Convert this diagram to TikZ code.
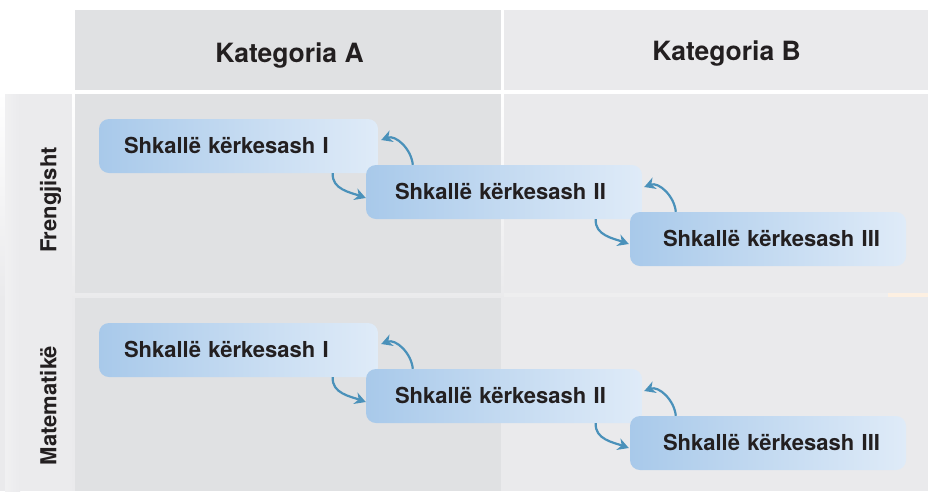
\documentclass[tikz,border=0pt]{standalone}
\usepackage{fontspec}
\setmainfont{TeX Gyre Heros}
\usetikzlibrary{arrows.meta,calc}
\definecolor{hdrA}{RGB}{224,225,227}
\definecolor{hdrB}{RGB}{234,234,236}
\definecolor{leftc}{RGB}{235,235,237}
\definecolor{gapc}{RGB}{234,234,236}
\definecolor{sepB}{RGB}{238,238,239}
\definecolor{smudge}{RGB}{253,240,226}
\definecolor{boxL}{RGB}{168,201,234}
\definecolor{boxR}{RGB}{223,235,248}
\definecolor{arrc}{RGB}{74,145,186}
\definecolor{txtc}{RGB}{35,31,32}
\tikzset{
  hdrtext/.style={font=\fontsize{26.5}{30}\selectfont\bfseries, text=txtc, inner sep=0pt, text height=19pt, text depth=0pt},
  sidetext/.style={font=\fontsize{22}{26}\selectfont\bfseries, text=txtc, inner sep=0pt, text height=15.8pt, text depth=0pt, rotate=90},
  stepbox/.style={rounded corners=10pt, left color=boxL, right color=boxR, draw=none,
    font=\fontsize{22}{26}\selectfont\bfseries, text=txtc, minimum height=54pt, inner ysep=0pt,
    inner xsep=0pt, text height=15.8pt, text depth=0pt, align=left},
  bend arrow/.style={draw=arrc, line width=2.2pt, -{Stealth[length=11pt,width=12pt,inset=3.5pt]}}
}
\begin{document}
\begin{tikzpicture}[x=1pt,y=1pt]
\useasboundingbox (0,0) rectangle (928,-491);
\fill[white] (0,0) rectangle (928,-491);
\shade[top color=white,bottom color=gapc] (0,-92) rectangle (928,-300);
\fill[gapc] (0,-300) rectangle (928,-491);
% header cells
\fill[hdrA] (75,-10) rectangle (501,-90);
\fill[hdrB] (504,-10) rectangle (928,-90);
% left column
\shade[left color=gapc!70!white, right color=leftc] (5,-94) rectangle (20,-491);
\fill[leftc] (20,-94) rectangle (72,-491);
% body cells
\fill[hdrA] (75,-94) rectangle (501,-293);
\fill[hdrA] (75,-298) rectangle (501,-491);
\fill[sepB] (504,-293) rectangle (928,-297);
\fill[hdrB] (504,-94) rectangle (928,-293);
\fill[hdrB] (504,-297) rectangle (928,-491);
\fill[smudge] (888,-293) rectangle (928,-297);
% headers
\node[hdrtext] (ka) at (289.5,-52.5) {Kategoria A};
\node[hdrtext] (kb) at (726.5,-51) {Kategoria B};
% side labels
\node[sidetext] (fr) at (48.5,-200) {Frengjisht};
\node[sidetext] (ma) at (48.5,-405.5) {Matematikë};
% rows
\foreach \r/\dy in {1/0,2/204}{
  \node[stepbox, text width=279pt] (b1r\r) at (238.5,-146-\dy) {\hspace*{25pt}Shkallë kërkesash I};
  \node[stepbox, text width=276pt] (b2r\r) at (504,-192-\dy) {\hspace*{29pt}Shkallë kërkesash II};
  \node[stepbox, text width=276pt] (b3r\r) at (768,-239-\dy) {\hspace*{33pt}Shkallë kërkesash III};
  \draw[bend arrow] ($(b2r\r.north west)+(47,0)$) to[out=95,in=20] ($(b1r\r.east)+(3,6)$);
  \draw[bend arrow] ($(b1r\r.south west)+(234,0)$) to[out=-95,in=160] ($(b2r\r.west)+(0,-6)$);
  \draw[bend arrow] ($(b3r\r.north west)+(46,0)$) to[out=95,in=20] ($(b2r\r.east)+(2,5)$);
  \draw[bend arrow] ($(b2r\r.south west)+(230,0)$) to[out=-95,in=160] ($(b3r\r.west)+(-1,-5)$);
}
\end{tikzpicture}
\end{document}
